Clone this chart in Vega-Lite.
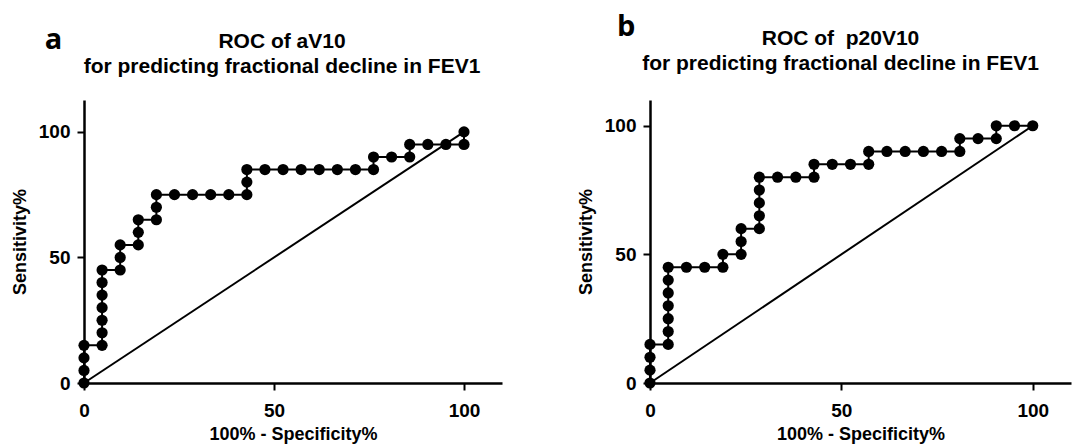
{
  "$schema": "https://vega.github.io/schema/vega-lite/v6.json",
  "padding": {"left": 11, "top": 12, "right": 5, "bottom": 3},
  "spacing": 75,
  "datasets": {
    "rocA": [
      {"fpr": 0, "sens": 0}, {"fpr": 0, "sens": 5}, {"fpr": 0, "sens": 10}, {"fpr": 0, "sens": 15},
      {"fpr": 4.76, "sens": 15}, {"fpr": 4.76, "sens": 20}, {"fpr": 4.76, "sens": 25}, {"fpr": 4.76, "sens": 30}, {"fpr": 4.76, "sens": 35}, {"fpr": 4.76, "sens": 40}, {"fpr": 4.76, "sens": 45},
      {"fpr": 9.52, "sens": 45}, {"fpr": 9.52, "sens": 50}, {"fpr": 9.52, "sens": 55},
      {"fpr": 14.29, "sens": 55}, {"fpr": 14.29, "sens": 60}, {"fpr": 14.29, "sens": 65},
      {"fpr": 19.05, "sens": 65}, {"fpr": 19.05, "sens": 70}, {"fpr": 19.05, "sens": 75},
      {"fpr": 23.81, "sens": 75}, {"fpr": 28.57, "sens": 75}, {"fpr": 33.33, "sens": 75}, {"fpr": 38.1, "sens": 75}, {"fpr": 42.86, "sens": 75}, {"fpr": 42.86, "sens": 80}, {"fpr": 42.86, "sens": 85},
      {"fpr": 47.62, "sens": 85}, {"fpr": 52.38, "sens": 85}, {"fpr": 57.14, "sens": 85}, {"fpr": 61.9, "sens": 85}, {"fpr": 66.67, "sens": 85}, {"fpr": 71.43, "sens": 85}, {"fpr": 76.19, "sens": 85}, {"fpr": 76.19, "sens": 90},
      {"fpr": 80.95, "sens": 90}, {"fpr": 85.71, "sens": 90}, {"fpr": 85.71, "sens": 95},
      {"fpr": 90.48, "sens": 95}, {"fpr": 95.24, "sens": 95}, {"fpr": 100, "sens": 95}, {"fpr": 100, "sens": 100}
    ],
    "rocB": [
      {"fpr": 0, "sens": 0}, {"fpr": 0, "sens": 5}, {"fpr": 0, "sens": 10}, {"fpr": 0, "sens": 15},
      {"fpr": 4.76, "sens": 15}, {"fpr": 4.76, "sens": 20}, {"fpr": 4.76, "sens": 25}, {"fpr": 4.76, "sens": 30}, {"fpr": 4.76, "sens": 35}, {"fpr": 4.76, "sens": 40}, {"fpr": 4.76, "sens": 45},
      {"fpr": 9.52, "sens": 45}, {"fpr": 14.29, "sens": 45}, {"fpr": 19.05, "sens": 45}, {"fpr": 19.05, "sens": 50},
      {"fpr": 23.81, "sens": 50}, {"fpr": 23.81, "sens": 55}, {"fpr": 23.81, "sens": 60},
      {"fpr": 28.57, "sens": 60}, {"fpr": 28.57, "sens": 65}, {"fpr": 28.57, "sens": 70}, {"fpr": 28.57, "sens": 75}, {"fpr": 28.57, "sens": 80},
      {"fpr": 33.33, "sens": 80}, {"fpr": 38.1, "sens": 80}, {"fpr": 42.86, "sens": 80}, {"fpr": 42.86, "sens": 85},
      {"fpr": 47.62, "sens": 85}, {"fpr": 52.38, "sens": 85}, {"fpr": 57.14, "sens": 85}, {"fpr": 57.14, "sens": 90},
      {"fpr": 61.9, "sens": 90}, {"fpr": 66.67, "sens": 90}, {"fpr": 71.43, "sens": 90}, {"fpr": 76.19, "sens": 90}, {"fpr": 80.95, "sens": 90}, {"fpr": 80.95, "sens": 95},
      {"fpr": 85.71, "sens": 95}, {"fpr": 90.48, "sens": 95}, {"fpr": 90.48, "sens": 100},
      {"fpr": 95.24, "sens": 100}, {"fpr": 100, "sens": 100}
    ],
    "diag": [{"fpr": 0, "sens": 0}, {"fpr": 100, "sens": 100}]
  },
  "hconcat": [
    {
      "width": 418,
      "height": 283,
      "title": {"text": ["ROC of aV10", "for predicting fractional decline in FEV1"], "dx": -11, "offset": -51},
      "layer": [
        {"data": {"name": "diag"}, "mark": {"type": "line", "color": "black", "strokeWidth": 2},
         "encoding": {
          "x": {"field": "fpr", "type": "quantitative", "scale": {"domain": [0, 110], "nice": false}, "axis": {"values": [0, 50, 100], "labelFlush": false, "labelPadding": 11, "titlePadding": 5}, "title": "100% - Specificity%"},
          "y": {"field": "sens", "type": "quantitative", "scale": {"domain": [0, 112.7], "nice": false}, "axis": {"values": [0, 50, 100], "labelFlush": false, "labelPadding": 7}, "title": "Sensitivity%"}
         }},
        {"data": {"name": "rocA"}, "mark": {"type": "line", "color": "black", "strokeWidth": 2, "point": {"filled": true, "size": 125, "color": "black", "opacity": 1}},
         "encoding": {"x": {"field": "fpr", "type": "quantitative"}, "y": {"field": "sens", "type": "quantitative"}, "order": {"value": null}}},
        {"data": {"values": [{"label": "a", "px": -10.3, "py": 133}]}, "mark": {"type": "text", "font": "Open Sans", "fontSize": 29, "fontWeight": "bold", "align": "left", "baseline": "alphabetic", "color": "black", "clip": false},
         "encoding": {"x": {"field": "px", "type": "quantitative"}, "y": {"field": "py", "type": "quantitative"}, "text": {"field": "label"}}}
      ]
    },
    {
      "width": 421,
      "height": 283,
      "title": {"text": ["ROC of \u00a0p20V10", "for predicting fractional decline in FEV1"], "dx": -20, "offset": -61},
      "layer": [
        {"data": {"name": "diag"}, "mark": {"type": "line", "color": "black", "strokeWidth": 2},
         "encoding": {
          "x": {"field": "fpr", "type": "quantitative", "scale": {"domain": [0, 110], "nice": false}, "axis": {"values": [0, 50, 100], "labelFlush": false, "labelPadding": 11, "titlePadding": 5}, "title": "100% - Specificity%"},
          "y": {"field": "sens", "type": "quantitative", "scale": {"domain": [0, 110], "nice": false}, "axis": {"values": [0, 50, 100], "labelFlush": false, "labelPadding": 7}, "title": "Sensitivity%"}
         }},
        {"data": {"name": "rocB"}, "mark": {"type": "line", "color": "black", "strokeWidth": 2, "point": {"filled": true, "size": 125, "color": "black", "opacity": 1}},
         "encoding": {"x": {"field": "fpr", "type": "quantitative"}, "y": {"field": "sens", "type": "quantitative"}, "order": {"value": null}}},
        {"data": {"values": [{"label": "b", "px": -8.6, "py": 135}]}, "mark": {"type": "text", "font": "Open Sans", "fontSize": 29, "fontWeight": "bold", "align": "left", "baseline": "alphabetic", "color": "black", "clip": false},
         "encoding": {"x": {"field": "px", "type": "quantitative"}, "y": {"field": "py", "type": "quantitative"}, "text": {"field": "label"}}}
      ]
    }
  ],
  "config": {
    "view": {"stroke": null},
    "axis": {
      "grid": false,
      "domainColor": "black",
      "domainWidth": 2.5,
      "tickColor": "black",
      "tickWidth": 2,
      "tickSize": 7,
      "labelFont": "Liberation Sans",
      "labelFontSize": 19,
      "labelFontWeight": "bold",
      "labelColor": "black",
      "titleFont": "Liberation Sans",
      "titleFontSize": 18,
      "titleFontWeight": "bold",
      "titleColor": "black",
      "titlePadding": 9
    },
    "title": {"font": "Liberation Sans", "fontSize": 21, "fontWeight": "bold", "color": "black", "lineHeight": 25, "anchor": "middle"}
  }
}
